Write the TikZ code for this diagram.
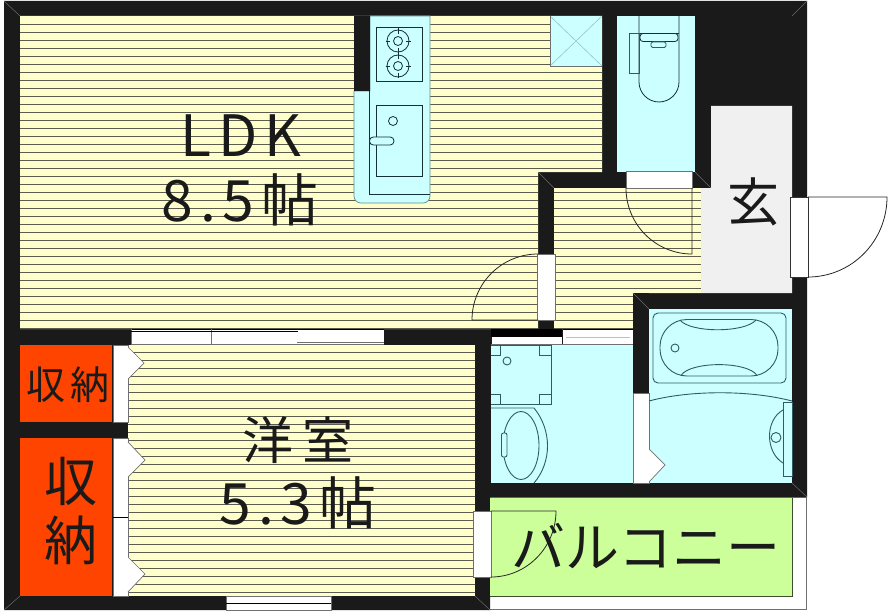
\documentclass[tikz,border=0pt]{standalone}
\usepackage{fontspec}
\setmainfont{Noto Sans CJK JP}
\newfontfamily\widecjk[LetterSpace=12]{Noto Sans CJK JP}
\definecolor{wallc}{HTML}{1A1A1A}
\definecolor{yel}{HTML}{FFFFCC}
\definecolor{cya}{HTML}{CCFFFF}
\definecolor{org}{HTML}{FF4400}
\definecolor{grn}{HTML}{CCFF99}
\definecolor{gen}{HTML}{F0F0F0}
\definecolor{stripe}{HTML}{5C5C50}
\definecolor{fix}{HTML}{2E5C64}
\definecolor{fixd}{HTML}{123036}
\definecolor{edge}{HTML}{707070}
\tikzset{
  wall/.style={fill=wallc},
  opening/.style={fill=white,draw=edge,line width=0.8pt},
  fixture/.style={draw=fix,line width=0.9pt},
  fixtured/.style={draw=fixd,line width=0.8pt},
  swing/.style={draw=black!85,line width=0.8pt},
  seam/.style={draw=white!35!wallc,line width=0.5pt},
  label/.style={text=wallc,inner sep=0pt,anchor=center},
}
\begin{document}
\begin{tikzpicture}[x=1pt,y=-1pt]
\useasboundingbox (0,0) rectangle (888,615);
\fill[white] (0,0) rectangle (888,615);
% balcony shell
\draw[fill=white,draw=edge,line width=0.8pt] (489,497) rectangle (806,609);
% walls
\fill[wall] (4,1) -- (807,1) -- (807,497) -- (490,497) -- (490,610) -- (4,610) -- cycle;
% yellow rooms
\path[fill=yel] (20,16) -- (602,16) -- (602,172) -- (538,172) -- (538,329) -- (20,329) -- cycle;
\path[fill=yel] (554,188) -- (701,188) -- (701,293) -- (633,293) -- (633,329) -- (554,329) -- cycle;
\path[fill=yel] (128,345) rectangle (475,596);
\begin{scope}
\clip (20,16) -- (602,16) -- (602,172) -- (538,172) -- (538,329.5) -- (20,329.5) -- cycle
      (554,188) -- (701,188) -- (701,293) -- (633,293) -- (633,329.5) -- (554,329.5) -- cycle
      (128,345) rectangle (475,596);
\foreach \k in {0,...,72} {\draw[stripe,line width=0.85pt] (0,{24+8*\k}) -- (720,{24+8*\k});}
\end{scope}
% other rooms
\fill[gen] (711,106) -- (792,106) -- (792,293) -- (701,293) -- (701,188) -- (711,188) -- cycle;
\fill[cya] (617,16) rectangle (695,172);
\fill[cya] (491,344) rectangle (633,483);
\fill[cya] (649,309) rectangle (792,483);
\fill[org] (20,345) rectangle (112,422);
\fill[org] (20,438) rectangle (112,596);
\fill[grn] (490,498) rectangle (792,596);
\draw[draw=black!70!grn,line width=0.8pt] (792,498) -- (792,596) -- (490,596);
% kitchen wall and counter
\fill[wall] (354,16) rectangle (370,91);
\path[fill=cya,draw=fix!70!cya,line width=0.7pt] (370,16) -- (430,16) [rounded corners=7pt] -- (430,203) -- (354,203) [sharp corners] -- (354,91) -- (370,91) -- cycle;
\fill[wall] (354,16) rectangle (369.5,91);
\draw[fixtured] (369,91) -- (369,194) -- (430,194);
\draw[fixtured] (376,27) rectangle (422,81);
\foreach \cy in {41,66} {
  \draw[fixtured] (398,\cy) circle (11pt);
  \draw[fixtured] (398,\cy) circle (4.5pt);
  \draw[fixtured] (385.5,\cy) -- (390,\cy) (406,\cy) -- (410.5,\cy) (398,{\cy-12.5}) -- (398,{\cy-7}) (398,{\cy+7}) -- (398,{\cy+12.5});
}
\draw[fixtured] (376,105) rectangle (422,176);
\draw[fixtured] (393,121) circle (4.5pt);
\draw[fixtured,fill=cya,rounded corners=3.8pt] (369.5,137) rectangle (394,145);
% vent
\fill[cya] (550,16) rectangle (602,66);
\draw[draw=fix!35!cya,line width=0.6pt] (550,16) -- (602,66) (602,16) -- (550,66);
\draw[draw=edge,line width=0.8pt] (550,16) -- (550,66) -- (602,66);
% toilet
\draw[fixtured] (639,16) -- (639,82) .. controls (639,93) and (648,102) .. (659,102) .. controls (670,102) and (679,93) .. (679,82) -- (679,16);
\draw[fixtured] (629,33) -- (679,33);
\draw[fixture] (629,33) rectangle (639,73);
\draw[fixtured,fill=cya,rounded corners=3pt] (640,33.5) rectangle (678,41.5);
\draw[fixture,fill=cya,rounded corners=1.5pt] (651,42) rectangle (666,47.5);
% doors and openings
\draw[opening] (626,171.5) rectangle (692,188.5);
\draw[swing] (626,188) .. controls (626,224.45) and (655.55,254) .. (692,254) -- (692,188);
\draw[opening] (537.5,254) rectangle (555,320);
\draw[swing] (538,254) .. controls (501.55,254) and (472,283.55) .. (472,320) -- (538,320);
\draw[opening,draw=black!80] (790.5,197) rectangle (808,277);
\draw[swing] (808,197) -- (887,197) .. controls (887,241) and (852,277) .. (808,277);
\draw[opening] (473.5,511) rectangle (491.5,577);
\draw[swing] (491,511) -- (556,511) .. controls (556,547) and (527,577) .. (491,577);
% window top of bedroom
\fill[white] (131,329) rectangle (384,344);
\draw[draw=black,line width=0.8pt] (131,329.5) -- (384,329.5);
\draw[draw=edge,line width=0.9pt] (131,329) -- (131,344) (211,329) -- (211,344) (131,344) -- (384,344);
\draw[draw=black,line width=0.8pt] (131,331.5) -- (298,331.5);
\draw[draw=edge,line width=0.9pt] (297,342) -- (384,342);
% bottom window
\fill[white] (226,596.5) rectangle (331,610);
\draw[draw=edge,line width=0.8pt] (226,596.5) rectangle (331,610);
\draw[draw=black,line width=0.8pt] (226,603) -- (331,603);
% storage doors
\draw[opening] (113,345) rectangle (128,422.5);
\draw[opening] (113,438) rectangle (128,596);
\draw[draw=black,line width=0.8pt] (113,517) -- (128,517);
\path[fill=white,draw=edge,line width=0.7pt] (128,347) -- (144,363) -- (128,379);
\path[fill=white,draw=edge,line width=0.7pt] (128,442) -- (145,460) -- (128,477);
\path[fill=white,draw=edge,line width=0.7pt] (128,557) -- (145,574) -- (128,592);
% wash room top opening
\fill[black] (491,329) rectangle (562,337);
\fill[white] (492,337) rectangle (562,344);
\fill[white] (563,329) rectangle (633,344);
\draw[draw=black,line width=0.6pt] (563,329.5) -- (633,329.5);
\draw[draw=black!25,line width=0.7pt] (566,337) -- (630,337);
\draw[draw=edge,line width=0.8pt] (491,344.5) -- (633,344.5);
% wash pan
\draw[fixture,line width=1pt] (491,345) -- (551,345) -- (551,404) -- (491,404);
\draw[fixture] (491,355) -- (500,355) -- (500,345) (539,345) -- (539,355) -- (551,355)
  (491,394) -- (500,394) -- (500,404) (539,404) -- (539,394) -- (551,394);
\draw[fixture] (507,361) circle (4pt);
% wash basin
\draw[fixture] (491,408) -- (534,408) .. controls (552,430) and (552,462) .. (534,483);
\draw[fixture] (521,445.5) ellipse [x radius=18pt,y radius=34pt];
\draw[fixture,fill=cya,rounded corners=2pt] (501.5,433) rectangle (507,457);
% bath door
\fill[wall] (633,293) rectangle (649,393);
\draw[opening] (633,393) rectangle (649,483);
\path[fill=white,draw=edge,line width=0.7pt] (649,449) -- (665,465) -- (649,482);
% tub
\draw[fixture,rounded corners=5pt] (653,313) rectangle (786,383);
\draw[fixture,rounded corners=27pt] (660,319.5) rectangle (778,376);
\draw[fixture] (680,320) .. controls (690,333) and (745,333) .. (756,320);
\draw[fixture] (681,375.5) .. controls (690,361) and (748,361) .. (757,375.5);
\draw[fixture] (675,348) circle (4pt);
\draw[fixture] (649,401) .. controls (690,390) and (750,390) .. (792,401);
\draw[fixture,fill=cya] (783,402) rectangle (792,476);
\draw[fixture] (783,410) .. controls (765,420) and (765,452) .. (783,463);
\draw[fixture] (776,437.5) circle (5pt);
% corner seams
\draw[seam] (4,1) -- (20,16) (807,1) -- (792,16) (4,610) -- (20,596) (807,497) -- (792,483)
  (475,596) -- (490,610) (538,172) -- (554,188) (633,293) -- (649,309) (695,172) -- (711,188);
% labels
\node[label,font={\widecjk\fontsize{57}{57}\selectfont}] (ldk) at (241,136) {LDK};
\node[label,font={\widecjk\fontsize{57}{57}\selectfont}] (ldkarea) at (240,200) {8.5帖};
\node[label,font={\fontsize{51}{51}\selectfont}] (yoshitsu) at (298,440) {洋\kern10pt 室};
\node[label,font={\widecjk\fontsize{57}{57}\selectfont}] (yoarea) at (298,503) {5.3帖};
\node[label,font={\fontsize{39}{39}\selectfont}] (sn1) at (68,385) {収\kern6pt 納};
\node[label,font={\fontsize{53}{53}\selectfont}] (sn2a) at (71,481) {収};
\node[label,font={\fontsize{53}{53}\selectfont}] (sn2b) at (71,540) {納};
\node[label,font={\fontsize{52}{52}\selectfont}] (genkan) at (753,202) {玄};
\node[label,font={\fontsize{54}{54}\selectfont}] (balcony) at (646,546) {バルコニー};
\end{tikzpicture}
\end{document}
